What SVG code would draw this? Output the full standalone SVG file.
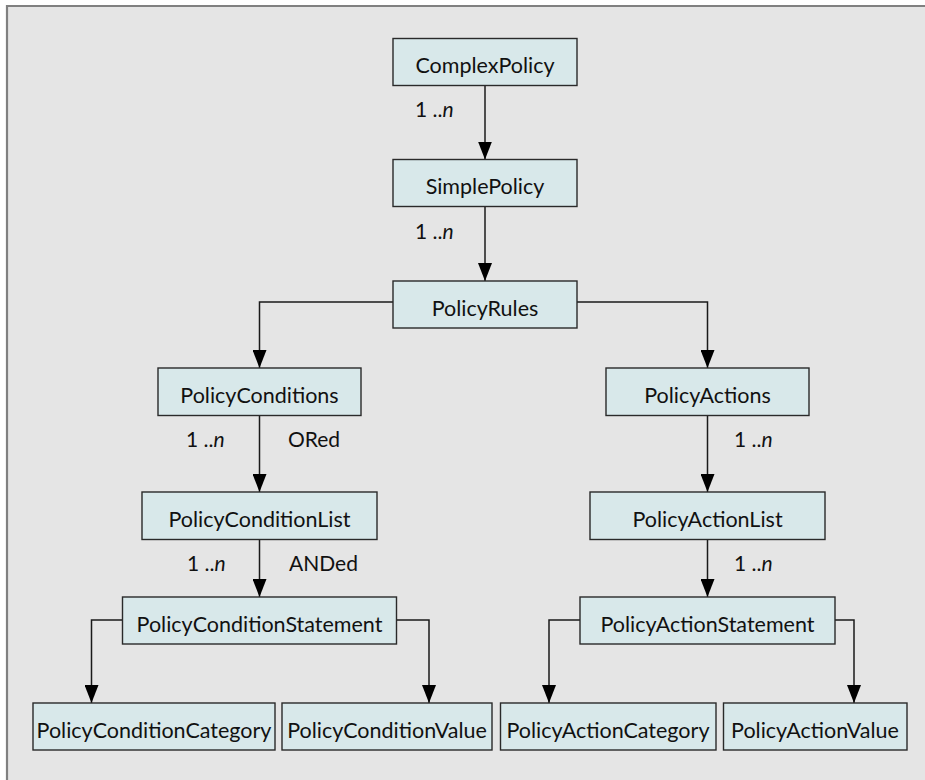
<svg xmlns="http://www.w3.org/2000/svg" width="925" height="780" viewBox="0 0 925 780">
<defs>
<marker id="arr" markerUnits="userSpaceOnUse" markerWidth="18" markerHeight="14" refX="18" refY="7" orient="auto">
<path d="M0,0 L18,7 L0,14 Z" fill="#000"/>
</marker>
<style>
.box{fill:#d8e8ea;stroke:#2a2a2a;stroke-width:1.4}
.t{font-family:Lato,"Open Sans",sans-serif;font-size:21.5px;fill:#111;text-anchor:middle}
.l{font-family:Lato,"Open Sans",sans-serif;font-size:21px;fill:#111}
.c{fill:none;stroke:#1a1a1a;stroke-width:1.5;marker-end:url(#arr)}
</style>
</defs>
<rect x="0" y="0" width="925" height="780" fill="#ffffff"/>
<rect x="6" y="5" width="919" height="775" fill="#e5e5e5"/>
<path d="M7,780 L7,6 L925,6" fill="none" stroke="#808080" stroke-width="2.2"/>

<g id="connectors">
<path class="c" d="M485,85.5 L485,159.5"/>
<path class="c" d="M485,206.5 L485,281"/>
<path class="c" d="M393,302 L259.5,302 L259.5,368"/>
<path class="c" d="M577,302 L707.5,302 L707.5,368"/>
<path class="c" d="M259.5,415.5 L259.5,492"/>
<path class="c" d="M707.5,415.5 L707.5,492"/>
<path class="c" d="M259.5,539.5 L259.5,597"/>
<path class="c" d="M707.5,539.5 L707.5,597"/>
<path class="c" d="M122.5,620 L91.5,620 L91.5,703"/>
<path class="c" d="M396.5,620 L429,620 L429,703"/>
<path class="c" d="M580,620 L549,620 L549,703"/>
<path class="c" d="M835,620 L854,620 L854,703"/>
<text class="l" x="415" y="117">1 ..<tspan font-style="italic">n</tspan></text>
<text class="l" x="415" y="239">1 ..<tspan font-style="italic">n</tspan></text>
<text class="l" x="186" y="447">1 ..<tspan font-style="italic">n</tspan></text>
<text class="l" x="288" y="447">ORed</text>
<text class="l" x="734" y="447">1 ..<tspan font-style="italic">n</tspan></text>
<text class="l" x="187" y="571">1 ..<tspan font-style="italic">n</tspan></text>
<text class="l" x="289" y="571">ANDed</text>
<text class="l" x="734" y="571">1 ..<tspan font-style="italic">n</tspan></text>
</g>

<g id="ComplexPolicy"><rect class="box" x="393" y="38.5" width="184" height="47"/><text class="t" x="485" y="73">ComplexPolicy</text></g>
<g id="SimplePolicy"><rect class="box" x="393" y="159.5" width="184" height="47"/><text class="t" x="485" y="194">SimplePolicy</text></g>
<g id="PolicyRules"><rect class="box" x="393" y="281" width="184" height="47"/><text class="t" x="485" y="315.5">PolicyRules</text></g>
<g id="PolicyConditions"><rect class="box" x="158" y="368" width="203" height="47.5"/><text class="t" x="259.5" y="402.5">PolicyConditions</text></g>
<g id="PolicyActions"><rect class="box" x="606" y="368" width="203" height="47.5"/><text class="t" x="707.5" y="402.5">PolicyActions</text></g>
<g id="PolicyConditionList"><rect class="box" x="142" y="492" width="235" height="47.5"/><text class="t" x="259.5" y="526.5">PolicyConditionList</text></g>
<g id="PolicyActionList"><rect class="box" x="590" y="492" width="235" height="47.5"/><text class="t" x="707.5" y="526.5">PolicyActionList</text></g>
<g id="PolicyConditionStatement"><rect class="box" x="122.5" y="597" width="274" height="47"/><text class="t" x="259.5" y="631.5">PolicyConditionStatement</text></g>
<g id="PolicyActionStatement"><rect class="box" x="580" y="597" width="255" height="47"/><text class="t" x="707.5" y="631.5">PolicyActionStatement</text></g>
<g id="PolicyConditionCategory"><rect class="box" x="33" y="703" width="242" height="47"/><text class="t" x="154" y="737.5">PolicyConditionCategory</text></g>
<g id="PolicyConditionValue"><rect class="box" x="282" y="703" width="210" height="47"/><text class="t" x="387" y="737.5">PolicyConditionValue</text></g>
<g id="PolicyActionCategory"><rect class="box" x="500.5" y="703" width="215.5" height="47"/><text class="t" x="608" y="737.5">PolicyActionCategory</text></g>
<g id="PolicyActionValue"><rect class="box" x="723.5" y="703" width="183.5" height="47"/><text class="t" x="815" y="737.5">PolicyActionValue</text></g>
</svg>
